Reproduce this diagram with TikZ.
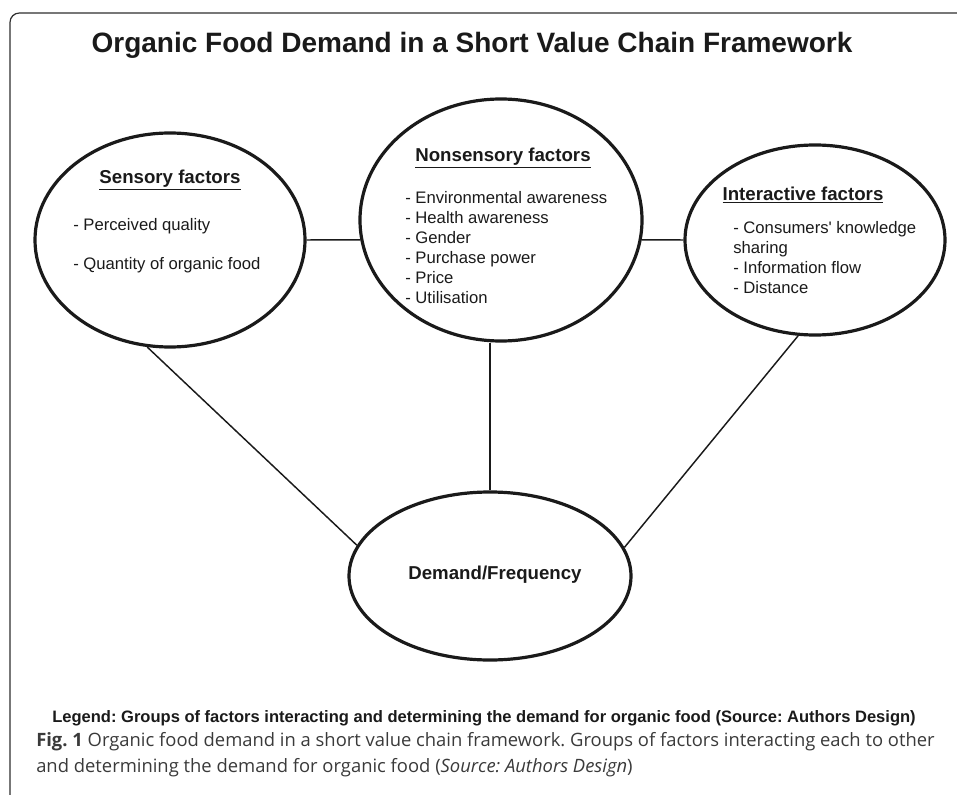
\documentclass[tikz,border=0pt]{standalone}
\usepackage{fontspec}
\setmainfont{Liberation Sans}
\newfontfamily\capfont{Open Sans}
\usetikzlibrary{shapes.geometric}
\definecolor{capgray}{HTML}{3A3A3A}
\definecolor{framegray}{HTML}{2E2E2E}
\definecolor{inkblack}{HTML}{1A1A1A}
\frenchspacing

\begin{document}
\begin{tikzpicture}[x=0.75pt,y=-0.75pt,
  factor/.style={ellipse,draw=inkblack,line width=2.4pt,inner sep=0pt},
  link/.style={draw=inkblack,line width=1.1pt},
  head/.style={inkblack,font=\fontsize{14}{17}\selectfont\bfseries},
  item/.style={inkblack,font=\fontsize{12.5}{15}\selectfont,align=left,inner sep=0pt}]
\useasboundingbox (0,0) rectangle (957,795);
\draw[framegray,line width=0.9pt,rounded corners=7] (10,795) -- (10,13) -- (957,13);
\node[inkblack,font=\fontsize{21}{25}\selectfont\bfseries] (title) at (472,45) {Organic Food Demand in a Short Value Chain Framework};
% the four groups
\node[factor,minimum width=202.5pt,minimum height=160.5pt] (sens) at (170,240) {};
\node[factor,minimum width=211.5pt,minimum height=181.5pt] (nons) at (501,220) {};
\node[factor,minimum width=195pt,minimum height=142.5pt] (inter) at (815,240) {};
\node[factor,minimum width=211.5pt,minimum height=126pt] (dem) at (490,576) {};
% texts
\node[head] (sensHead) at (170,180) {\underline{Sensory factors}};
\node[item,anchor=west] (sensA) at (73,226) {- Perceived quality};
\node[item,anchor=west] (sensB) at (73,265) {- Quantity of organic food};
\node[head] (nonsHead) at (503,158) {\underline{Nonsensory factors}};
\node[item,anchor=west] (nonsList) at (405,248) {- Environmental awareness\\- Health awareness\\- Gender\\- Purchase power\\- Price\\- Utilisation};
\node[head] (interHead) at (803,195) {\underline{Interactive factors}};
\node[item,anchor=west] (interList) at (733,258) {- Consumers\textquotesingle{} knowledge\\sharing\\- Information flow\\- Distance};
\node[head] (demText) at (495,575) {Demand/Frequency};
% links
\draw[link] (sens.east) -- (nons.188);
\draw[link] (nons.-8) -- (inter.west);
\draw[link] (dem.north) -- (dem.north |- nons.south);
\draw[link] (sens.258) -- (dem.167);
\draw[link] (inter.260) -- (dem.12);
% legend and caption
\node[inkblack,font=\fontsize{12.4}{15}\selectfont\bfseries] (legend) at (484,718) {Legend: Groups of factors interacting and determining the demand for organic food (Source: Authors Design)};
\node[capgray,anchor=west,inner sep=0pt,font=\capfont\fontsize{13.8}{19.5}\selectfont,align=left] (caption) at (36,755) {{\bfseries Fig. 1} Organic food demand in a short value chain framework. Groups of factors interacting each to other\\and determining the demand for organic food ({\itshape Source: Authors Design})};
\end{tikzpicture}
\end{document}
